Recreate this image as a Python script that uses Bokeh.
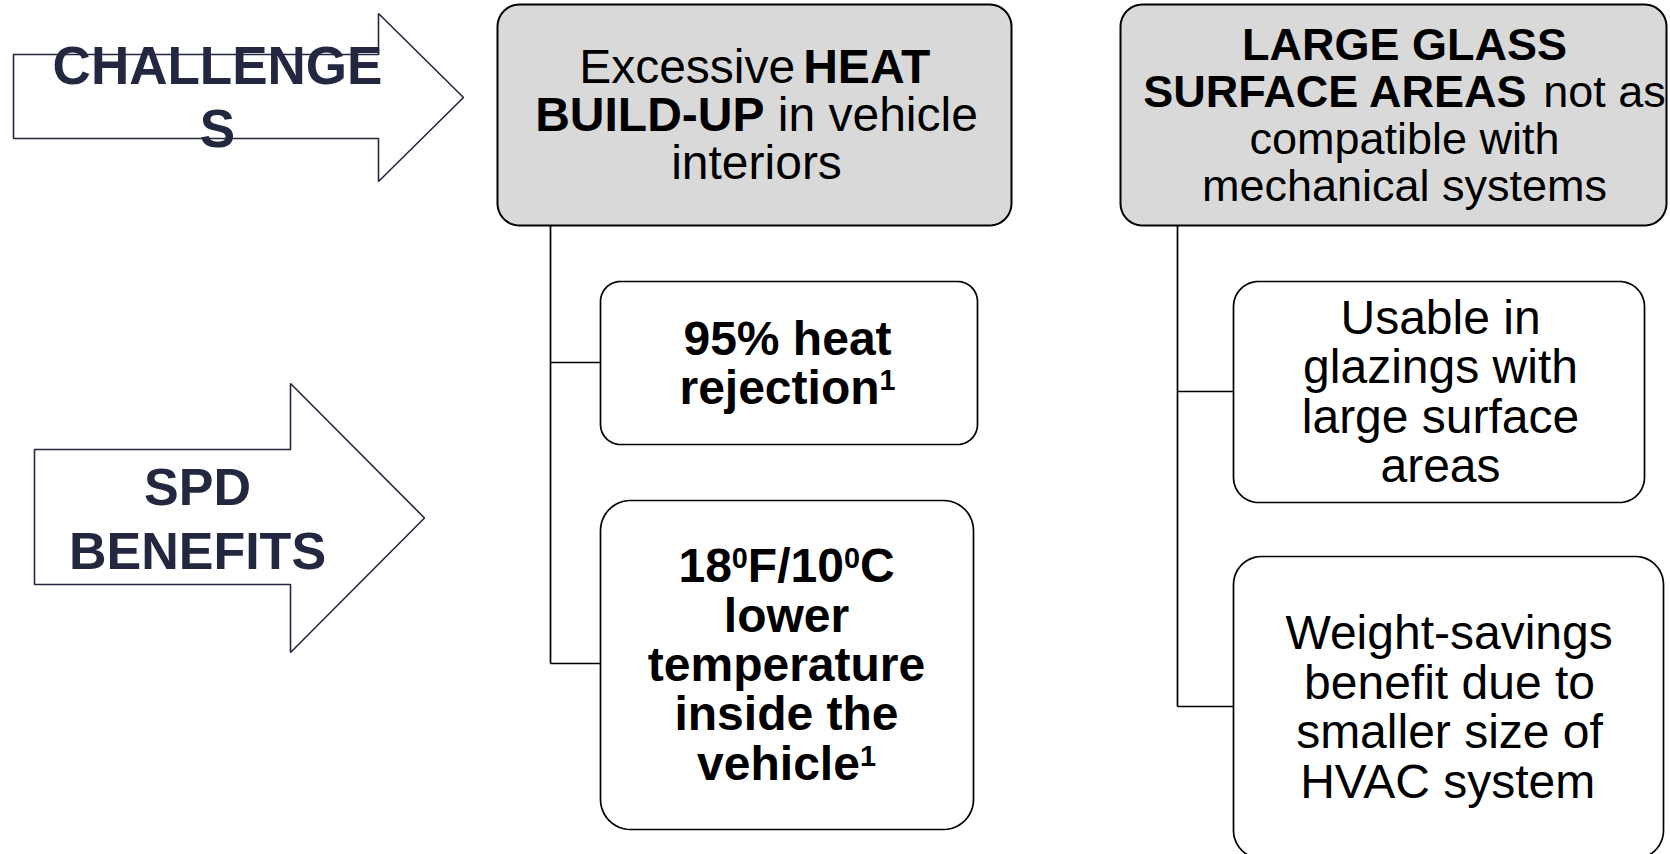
import math
from bokeh.plotting import figure
from bokeh.models import Range1d, ColumnDataSource
from bokeh.embed import file_html
from bokeh.resources import INLINE
from bokeh.core.properties import value

FONT = "Liberation Sans"
NAVY = "#23273f"
GRAY = "#d9d9d9"

# ---------------- content (texts) ----------------
arrow_labels = [["CHALLENGE", "S"], ["SPD", "BENEFITS"]]

header_heat = [[("Excessive ", "r"), ("HEAT", "b")],
               [("BUILD-UP", "b"), (" in vehicle", "r")],
               [("interiors", "r")]]
header_glass = [[("LARGE GLASS", "b")],
                [("SURFACE AREAS", "b"), (" not as", "r")],
                [("compatible with", "r")],
                [("mechanical systems", "r")]]
benefit_heat_1 = [[("95% heat", "b")],
                  [("rejection", "b"), ("1", "bs")]]
benefit_heat_2 = [[("18", "b"), ("0", "bs"), ("F/10", "b"), ("0", "bs"), ("C", "b")],
                  [("lower", "b")],
                  [("temperature", "b")],
                  [("inside the", "b")],
                  [("vehicle", "b"), ("1", "bs")]]
benefit_glass_1 = [[("Usable in", "r")], [("glazings with", "r")],
                   [("large surface", "r")], [("areas", "r")]]
benefit_glass_2 = [[("Weight-savings", "r")], [("benefit due to", "r")],
                   [("smaller size of", "r")], [("HVAC system", "r")]]

box_texts = [header_heat, header_glass, benefit_heat_1, benefit_heat_2,
             benefit_glass_1, benefit_glass_2]

# ---------------- layout (pixel coordinates of the page) ----------------
box_left = [497, 1120, 600, 600, 1233, 1233]
box_top = [4, 4, 281, 500, 281, 556]
box_right = [1011, 1666, 977, 973, 1644, 1663]
box_bottom = [225, 225, 444, 829, 502, 858]
box_radius = [22, 22, 20, 30, 25, 28]
box_fill = [GRAY, GRAY, "white", "white", "white", "white"]
box_lw = [2.0, 2.0, 1.7, 1.7, 1.7, 1.7]
text_cx = [756, 1404, 787, 786, 1440, 1449]
font_px = [48, 45, 48, 48, 48, 48]
line_gap = [48, 47, 49, 49.3, 49.5, 49.5]

# arrows: shaft left, shaft top, shaft bottom, head base x, head top, head bottom, tip x
arrow_geom = [[13, 54, 138, 378, 13, 181, 463],
              [34, 449, 584, 290, 383, 652, 424]]
arrow_text_cx = [217, 197]
arrow_baselines = [[84, 147], [505, 569]]
arrow_font_px = [53, 52]

# connectors: trunk x, trunk top, branch y's, branch end x
conn_x = [550, 1177]
conn_top = [225, 225]
conn_branches = [[362, 663], [391, 706]]
conn_end = [600, 1233]

# ---------------- frame ----------------
W, H = 1670, 854
p = figure(width=W, height=H, x_range=Range1d(0, W), y_range=Range1d(H, 0),
           output_backend="svg", toolbar_location=None, min_border=0)
p.axis.visible = False
p.grid.visible = False
p.outline_line_color = None
p.background_fill_color = "white"
p.border_fill_color = "white"

BASE_FIX = 0.36  # shift between requested alphabetic baseline and drawn one (in em)

# ---------------- arrows ----------------
axs, ays = [], []
for (sl, st, sb, hx, ht, hb, tx) in arrow_geom:
    ty = (ht + hb) / 2
    axs.append([sl, hx, hx, tx, hx, hx, sl])
    ays.append([st, st, ht, ty, hb, sb, sb])
p.patches(axs, ays, fill_color="white", line_color=NAVY, line_width=1.6)

# ---------------- rounded boxes ----------------
def rounded(l, t, r, b, rad, n=12):
    xs, ys = [], []
    corners = [(r - rad, t + rad, -90, 0), (r - rad, b - rad, 0, 90),
               (l + rad, b - rad, 90, 180), (l + rad, t + rad, 180, 270)]
    for cx, cy, a0, a1 in corners:
        for k in range(n + 1):
            a = math.radians(a0 + (a1 - a0) * k / n)
            xs.append(cx + rad * math.cos(a))
            ys.append(cy + rad * math.sin(a))
    return xs, ys

bxs, bys = [], []
for l, t, r, b, rad in zip(box_left, box_top, box_right, box_bottom, box_radius):
    xx, yy = rounded(l, t, r, b, rad)
    bxs.append(xx)
    bys.append(yy)
p.patches(bxs, bys, fill_color=box_fill, line_color="black", line_width=box_lw)

# ---------------- connectors ----------------
cxs, cys = [], []
for x, top, brs, end in zip(conn_x, conn_top, conn_branches, conn_end):
    cxs.append([x, x])
    cys.append([top, max(brs)])
    for by in brs:
        cxs.append([x, end])
        cys.append([by, by])
p.multi_line(cxs, cys, line_color="black", line_width=1.7)

# ---------------- text ----------------
REG = {' ': 278, 'a': 556, 'b': 556, 'c': 500, 'd': 556, 'e': 556, 'f': 278, 'g': 556,
       'h': 556, 'i': 222, 'j': 222, 'k': 500, 'l': 222, 'm': 833, 'n': 556, 'o': 556,
       'p': 556, 'q': 556, 'r': 333, 's': 500, 't': 278, 'u': 556, 'v': 500, 'w': 722,
       'x': 500, 'y': 500, 'z': 500, '-': 333, 'A': 667, 'C': 722, 'H': 722, 'V': 667,
       'W': 944, 'U': 722}
BOLD = {' ': 278, 'a': 556, 'b': 611, 'c': 556, 'd': 611, 'e': 556, 'f': 333, 'g': 611,
        'h': 611, 'i': 278, 'j': 278, 'k': 556, 'l': 278, 'm': 889, 'n': 611, 'o': 611,
        'p': 611, 'r': 389, 's': 556, 't': 333, 'u': 611, 'v': 556, 'w': 778, 'y': 556,
        '%': 889, '/': 278, '-': 333, 'A': 722, 'B': 722, 'C': 722, 'D': 722, 'E': 667,
        'F': 611, 'G': 778, 'H': 722, 'I': 278, 'L': 611, 'N': 722, 'P': 667, 'R': 722,
        'S': 667, 'T': 611, 'U': 722}

def em_width(s, bold):
    tab = BOLD if bold else REG
    return sum(tab.get(c, 556) for c in s) / 1000.0

SUP = 0.6
tx, ty, tt, tsize, tstyle = [], [], [], [], []

for lines, cx, fs, gap, t, b in zip(box_texts, text_cx, font_px, line_gap, box_top, box_bottom):
    n = len(lines)
    cy = (t + b) / 2
    for i, runs in enumerate(lines):
        base = cy + 0.35 * fs + (i - (n - 1) / 2) * gap
        sizes = [fs * SUP if st.endswith("s") else fs for _, st in runs]
        total = sum(em_width(txt, st.startswith("b")) * sz for (txt, st), sz in zip(runs, sizes))
        x = cx - total / 2
        for (txt, st), sz in zip(runs, sizes):
            bold = st.startswith("b")
            lead = len(txt) - len(txt.lstrip(" "))
            core = txt.strip(" ")
            trail = len(txt) - lead - len(core)
            x += em_width(" " * lead, bold) * sz
            sup = st.endswith("s")
            tx.append(x)
            ty.append(base - (0.30 * fs if sup else 0) - BASE_FIX * sz)
            tt.append(core)
            tsize.append("%.1fpx" % sz)
            tstyle.append("bold" if bold else "normal")
            x += em_width(core, bold) * sz + em_width(" " * trail, bold) * sz

src = ColumnDataSource(dict(x=tx, y=ty, text=tt, size=tsize, style=tstyle))
p.text(x="x", y="y", text="text", source=src, text_font=value(FONT),
       text_font_size="size", text_font_style="style", text_color="black",
       text_align="left", text_baseline="alphabetic")

ax_, ay_, at_, as_ = [], [], [], []
for labels, cx, bases, fs in zip(arrow_labels, arrow_text_cx, arrow_baselines, arrow_font_px):
    for lab, bl in zip(labels, bases):
        ax_.append(cx)
        ay_.append(bl - BASE_FIX * fs)
        at_.append(lab)
        as_.append("%dpx" % fs)
asrc = ColumnDataSource(dict(x=ax_, y=ay_, text=at_, size=as_))
p.text(x="x", y="y", text="text", source=asrc, text_font=value(FONT),
       text_font_size="size", text_font_style="bold", text_color=NAVY,
       text_align="center", text_baseline="alphabetic")

open("out.html", "w").write(file_html(p, INLINE))
